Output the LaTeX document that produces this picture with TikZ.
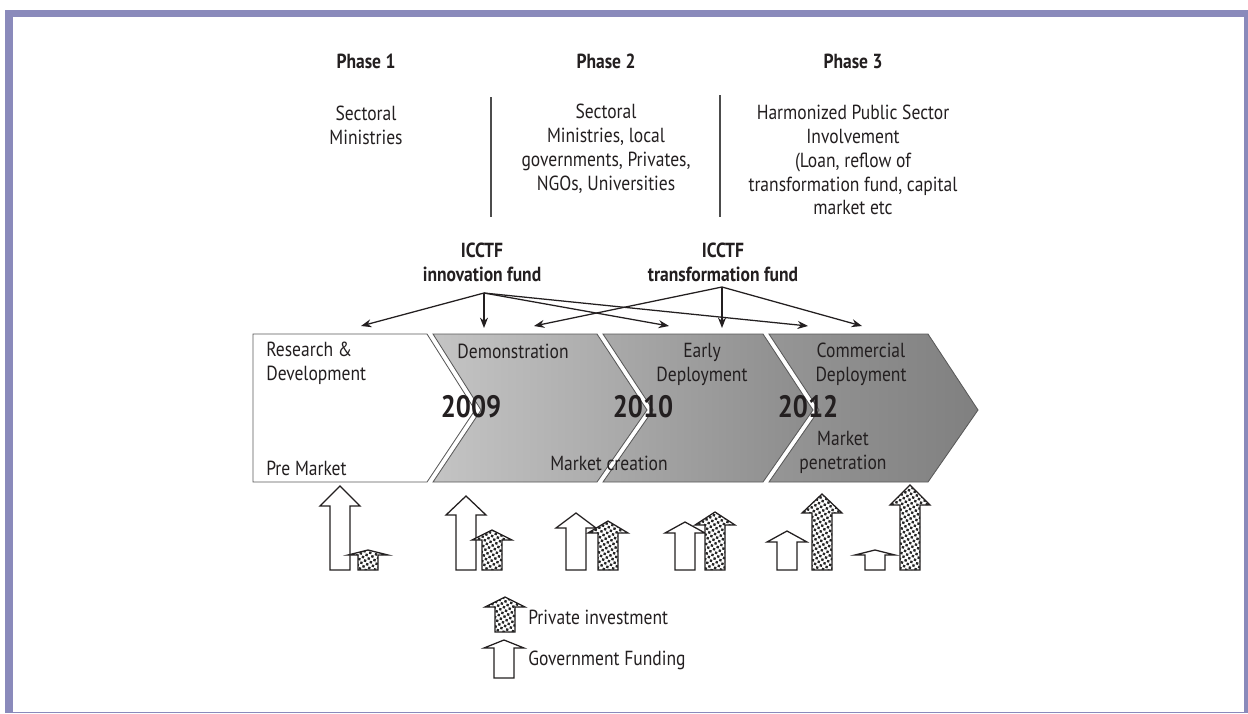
\documentclass[tikz,border=0pt]{standalone}
\usepackage{fontspec}
\setmainfont{PT Sans}[FakeStretch=0.86]
\usetikzlibrary{arrows.meta,patterns.meta}

\definecolor{framec}{RGB}{138,138,187}
\definecolor{inkc}{RGB}{35,31,32}
\definecolor{chevA}{RGB}{196,196,196}
\definecolor{chevB}{RGB}{166,166,166}
\definecolor{chevC}{RGB}{170,170,170}
\definecolor{chevD}{RGB}{140,140,140}
\definecolor{chevE}{RGB}{150,150,150}
\definecolor{chevF}{RGB}{128,128,128}

\begin{document}
\begin{tikzpicture}[x=0.025cm, y=-0.025cm,
  every node/.style = {inner sep=0pt, text=inkc, font=\fontsize{14.5}{17}\selectfont},
  txt/.style   = {align=center},
  phase/.style = {font=\fontsize{14.5}{17}\selectfont\bfseries},
  fund/.style  = {align=center, font=\fontsize{14.5}{17}\selectfont\bfseries},
  year/.style  = {font=\fontsize{22}{24}\selectfont\bfseries},
  chev/.style  = {draw=black!65, line width=0.6pt},
  sep/.style   = {draw=black!70, line width=1.3pt},
  farr/.style  = {-{Stealth[length=2.6mm, width=2mm]}, draw=inkc, line width=0.9pt},
  gov/.style   = {draw=inkc, fill=white, line width=0.9pt},
  priv/.style  = {draw=inkc, fill=white, line width=0.9pt,
                  postaction={pattern={Dots[distance=3pt, radius=1.2pt, angle=30]}, pattern color=black!85}}
]
\useasboundingbox (0,0) rectangle (1248,713);

% frame
\fill[framec] (5,10) rectangle (1248,713);
\fill[white] (13,17) rectangle (1244,711.5);

% ---------- phases ----------
\node[phase] (ph1) at (366,61) {Phase 1};
\node[phase] (ph2) at (606,61) {Phase 2};
\node[phase] (ph3) at (853,61) {Phase 3};
\node[txt] (act1) at (366,125) {Sectoral\\Ministries};
\node[txt] (act2) at (606,149) {Sectoral\\Ministries, local\\governments, Privates,\\NGOs, Universities};
\node[txt] (act3) at (853,160) {Harmonized Public Sector\\Involvement\\(Loan, reflow of\\transformation fund, capital\\market etc};
\draw[sep] (491,97) -- (491,217);
\draw[sep] (720,95) -- (720,217);

% ---------- funds ----------
\node[fund] (inno) at (482,262) {ICCTF\\innovation fund};
\node[fund] (trf)  at (723,262) {ICCTF\\transformation fund};
\coordinate (innoout) at (484,293);
\coordinate (trfout)  at (722,287);
\coordinate (toRD)    at (361,326);
\coordinate (toDemoA) at (484,328);
\coordinate (toDemoB) at (534,326);
\coordinate (toEarlyA) at (669,326);
\coordinate (toEarlyB) at (722,328);
\coordinate (toCommA) at (808,326);
\coordinate (toCommB) at (862,326);

% ---------- chevrons ----------
\draw[chev, fill=white] (253,334) -- (427,334) -- (475,410) -- (427,482) -- (253,482) -- cycle;
\draw[chev, left color=chevA, right color=chevB] (433,334) -- (597,334) -- (647,410) -- (597,482) -- (433,482) -- (481,410) -- cycle;
\draw[chev, left color=chevC, right color=chevD] (603,334) -- (763,334) -- (813,410) -- (763,482) -- (603,482) -- (653,410) -- cycle;
\draw[chev, left color=chevE, right color=chevF] (769,334) -- (928,334) -- (978,410) -- (928,482) -- (769,482) -- (819,410) -- cycle;

\draw[farr] (innoout) -- (toRD);
\draw[farr] (innoout) -- (toDemoA);
\draw[farr] (innoout) -- (toEarlyA);
\draw[farr] (innoout) -- (toCommA);
\draw[farr] (trfout) -- (toDemoB);
\draw[farr] (trfout) -- (toEarlyB);
\draw[farr] (trfout) -- (toCommB);

\node[align=left, anchor=west] (rd) at (266,363) {Research \&\\Development};
\node[anchor=west] (premkt) at (266,468) {Pre Market};
\node (demo) at (513,351) {Demonstration};
\node[txt] (early) at (702,364) {Early\\Deployment};
\node[txt] (comm) at (861,364) {Commercial\\Deployment};
\node[year] (y09) at (471,407) {2009};
\node[year] (y10) at (643,407) {2010};
\node[year] (y12) at (808,407) {2012};
\node (mcreate) at (609,463) {Market creation};
\node[txt] (mpen) at (843,452) {Market\\penetration};

% ---------- funding arrows ----------
\foreach \c/\t/\s/\b in {340/486/506/570, 466/496/515/570, 576/513/528/570,
                         685/522/533/570, 787/531/542/570, 875/550/555/570, 504/640/648/678}
  \draw[gov] (\c-10,\b) -- (\c-10,\s) -- (\c-20,\s) -- (\c,\t) -- (\c+20,\s) -- (\c+10,\s) -- (\c+10,\b) -- cycle;
\foreach \c/\t/\s/\b in {368/550/555/570, 492/530/540/570, 608/521/533/570,
                         715/512/525/570, 822/494/513/570, 910/485/505/570, 505/597/607/632}
  \draw[priv] (\c-10,\b) -- (\c-10,\s) -- (\c-20,\s) -- (\c,\t) -- (\c+20,\s) -- (\c+10,\s) -- (\c+10,\b) -- cycle;

\node[anchor=west] (lgpriv) at (528,617) {Private investment};
\node[anchor=west] (lggov) at (528,660) {Government Funding};

\end{tikzpicture}
\end{document}
